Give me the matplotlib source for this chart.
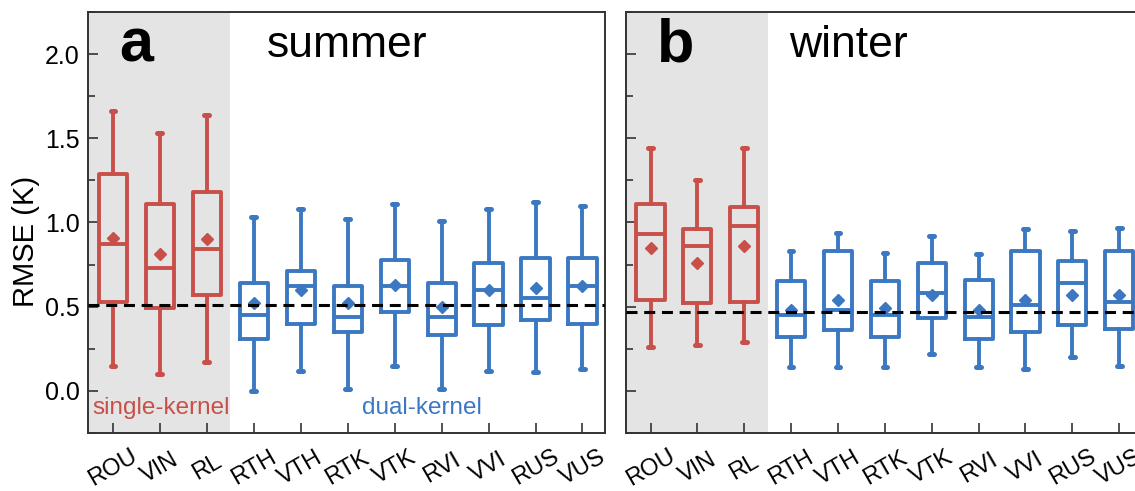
import numpy as np
import matplotlib
matplotlib.use("Agg")
import matplotlib.pyplot as plt
from matplotlib.ticker import MultipleLocator, FormatStrFormatter

plt.rcParams['font.family'] = ['Liberation Sans', 'DejaVu Sans']

# categories (3 single-kernel + 8 dual-kernel)
cats = ['ROU', 'VIN', 'RL', 'RTH', 'VTH', 'RTK', 'VTK', 'RVI', 'VVI', 'RUS', 'VUS']
n_single = 3

# summer box stats
sum_lo   = [0.15, 0.10, 0.17, 0.00, 0.12, 0.01, 0.15, 0.01, 0.12, 0.11, 0.13]
sum_q1   = [0.53, 0.49, 0.57, 0.31, 0.40, 0.35, 0.47, 0.33, 0.39, 0.42, 0.40]
sum_med  = [0.87, 0.73, 0.84, 0.45, 0.62, 0.44, 0.62, 0.44, 0.60, 0.55, 0.62]
sum_q3   = [1.29, 1.11, 1.18, 0.64, 0.71, 0.62, 0.78, 0.64, 0.76, 0.79, 0.79]
sum_hi   = [1.66, 1.53, 1.64, 1.03, 1.08, 1.02, 1.11, 1.01, 1.08, 1.12, 1.10]
sum_mean = [0.91, 0.81, 0.90, 0.52, 0.60, 0.52, 0.63, 0.50, 0.60, 0.61, 0.62]
sum_ref = 0.51

# winter box stats
win_lo   = [0.26, 0.27, 0.29, 0.14, 0.14, 0.14, 0.22, 0.14, 0.13, 0.20, 0.15]
win_q1   = [0.54, 0.52, 0.53, 0.32, 0.36, 0.32, 0.43, 0.31, 0.35, 0.39, 0.37]
win_med  = [0.93, 0.86, 0.98, 0.45, 0.48, 0.45, 0.58, 0.44, 0.51, 0.64, 0.53]
win_q3   = [1.11, 0.96, 1.09, 0.65, 0.83, 0.65, 0.76, 0.66, 0.83, 0.77, 0.83]
win_hi   = [1.44, 1.25, 1.44, 0.83, 0.94, 0.82, 0.92, 0.81, 0.96, 0.95, 0.97]
win_mean = [0.85, 0.76, 0.86, 0.48, 0.54, 0.49, 0.57, 0.48, 0.54, 0.57, 0.57]
win_ref = 0.47

red = '#C9504A'
blue = '#3B78C1'
gray = '#E4E4E4'
spine_c = '#333333'

fig = plt.figure(figsize=(11.35, 4.91), dpi=100)
ax1 = fig.add_axes([88/1135, 58/491, 517/1135, 421/491])
ax2 = fig.add_axes([625.7/1135, 58/491, 516/1135, 421/491])

pos = np.arange(1, len(cats) + 1)


def draw_panel(ax, lo, q1, med, q3, hi, mean, ref, letter, season, season_x, show_ylabels):
    ax.axvspan(0.47, n_single + 0.5, color=gray, zorder=0, lw=0)
    for i in range(len(cats)):
        c = red if i < n_single else blue
        st = [dict(whislo=lo[i], q1=q1[i], med=med[i], q3=q3[i], whishi=hi[i], mean=mean[i], fliers=[])]
        ax.bxp(st, positions=[pos[i]], widths=0.6, showmeans=True, capwidths=0.1,
               boxprops=dict(color=c, lw=2.8),
               whiskerprops=dict(color=c, lw=2.8),
               capprops=dict(color=c, lw=3.6, solid_capstyle='round'),
               medianprops=dict(color=c, lw=2.8),
               meanprops=dict(marker='D', markerfacecolor=c, markeredgecolor=c, markersize=6.5),
               manage_ticks=False)
    ax.axhline(ref, color='black', lw=2.2, ls=(0, (3.6, 2.2)), zorder=5)

    ax.set_xlim(0.47, 11.48)
    ax.set_ylim(-0.25, 2.25)
    ax.set_xticks(pos)
    ax.set_xticklabels(cats, fontsize=17)
    ax.yaxis.set_major_locator(MultipleLocator(0.5))
    ax.yaxis.set_minor_locator(MultipleLocator(0.25))
    ax.yaxis.set_major_formatter(FormatStrFormatter('%.1f'))
    ax.tick_params(axis='y', which='both', direction='in', length=7, width=1.2,
                   labelsize=18, pad=6, colors=spine_c, labelcolor='black',
                   labelleft=show_ylabels)
    ax.tick_params(axis='y', which='minor', length=5)
    ax.tick_params(axis='x', direction='in', length=7, width=1.2, pad=25,
                   colors=spine_c, labelcolor='black')
    for lab in ax.get_xticklabels():
        lab.set_rotation(30)
        lab.set_ha('center')
        lab.set_va('center')
        lab.set_rotation_mode('anchor')
    for s in ax.spines.values():
        s.set_color(spine_c)
        s.set_linewidth(1.4)

    ax.text(1.13, 1.955, letter, fontsize=44, fontweight='bold', va='baseline', ha='left')
    ax.text(season_x, 1.98, season, fontsize=32, va='baseline', ha='left')


draw_panel(ax1, sum_lo, sum_q1, sum_med, sum_q3, sum_hi, sum_mean, sum_ref, 'a', 'summer', 4.28, True)
draw_panel(ax2, win_lo, win_q1, win_med, win_q3, win_hi, win_mean, win_ref, 'b', 'winter', 3.96, False)

ax1.text(0.56, -0.138, 'single-kernel', color=red, fontsize=17.5, va='baseline', ha='left')
ax1.text(6.30, -0.138, 'dual-kernel', color=blue, fontsize=17.5, va='baseline', ha='left')

fig.text(25.5/1135, 1 - 241.7/491, 'RMSE (K)', rotation=90, fontsize=21, ha='center', va='center')

fig.savefig('out.png', dpi=100)
